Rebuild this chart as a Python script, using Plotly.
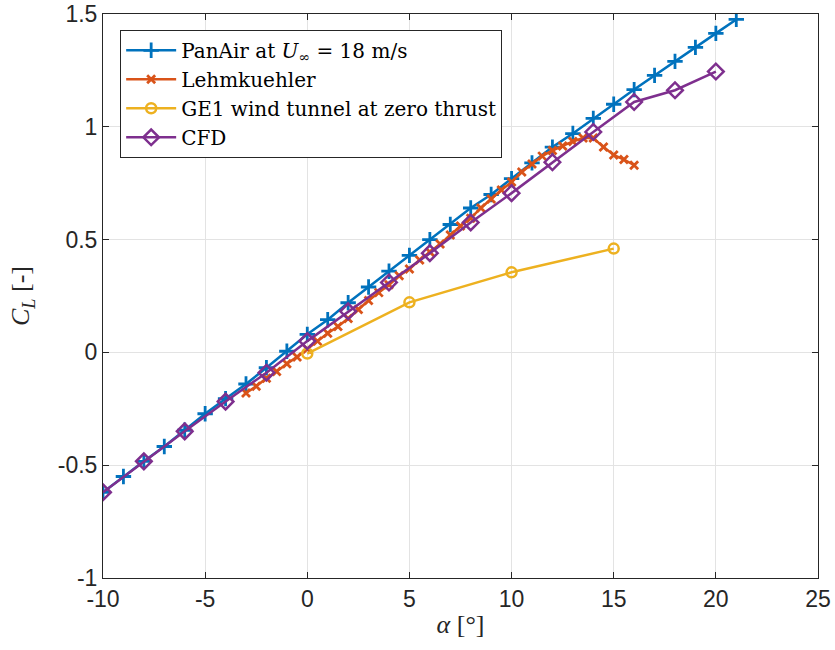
import plotly.graph_objects as go

# PanAir at U_inf = 18 m/s
panair_alpha = list(range(-10, 22))
panair_cl = [-0.62, -0.55, -0.483, -0.417, -0.345, -0.272, -0.205, -0.14, -0.068, 0.005,
             0.08, 0.145, 0.22, 0.29, 0.36, 0.43, 0.50, 0.567, 0.64, 0.70,
             0.77, 0.84, 0.91, 0.97, 1.037, 1.10, 1.165, 1.228, 1.29, 1.352,
             1.414, 1.476]

# Lehmkuehler
lehm_alpha = [-3, -2.5, -2, -1.5, -1, -0.5, 0, 0.5, 1, 1.5, 2, 2.5, 3, 3.5, 4, 4.5, 5,
              5.5, 6, 6.5, 7, 7.5, 8, 8.5, 9, 9.5, 10, 10.5, 11, 11.5, 12, 12.5, 13,
              13.5, 14, 14.5, 15, 15.5, 16]
lehm_cl = [-0.18, -0.15, -0.115, -0.085, -0.05, -0.02, 0.015, 0.05, 0.085, 0.115, 0.15,
           0.19, 0.23, 0.265, 0.30, 0.34, 0.37, 0.41, 0.445, 0.48, 0.52, 0.56, 0.595,
           0.64, 0.68, 0.72, 0.755, 0.80, 0.835, 0.87, 0.895, 0.915, 0.935, 0.95, 0.95,
           0.91, 0.875, 0.855, 0.83]

# GE1 wind tunnel at zero thrust
ge1_alpha = [0, 5, 10, 15]
ge1_cl = [-0.005, 0.222, 0.355, 0.46]

# CFD
cfd_alpha = [-10, -8, -6, -4, -2, 0, 2, 4, 6, 8, 10, 12, 14, 16, 18, 20]
cfd_cl = [-0.62, -0.483, -0.35, -0.218, -0.09, 0.05, 0.182, 0.31, 0.44, 0.576, 0.706,
          0.843, 0.977, 1.11, 1.162, 1.245]

x_ticks = [-10, -5, 0, 5, 10, 15, 20, 25]
x_ticktext = ["-10", "-5", "0", "5", "10", "15", "20", "25"]
y_ticks = [-1, -0.5, 0, 0.5, 1, 1.5]
y_ticktext = ["-1", "-0.5", "0", "0.5", "1", "1.5"]

blue, orange, yellow, purple = "#0072BD", "#D95319", "#EDB120", "#7E2F8E"
serif = "DejaVu Serif, Liberation Serif, serif"
title_serif = "Liberation Serif, Times New Roman, serif"
sans = "Liberation Sans, Arial, sans-serif"
axis_col = "#262626"

fig = go.Figure()
fig.add_trace(go.Scatter(
    x=panair_alpha, y=panair_cl, mode="lines+markers",
    name="PanAir at <i>U</i><sub>∞</sub> = 18 m/s",
    line=dict(color=blue, width=2.5),
    marker=dict(symbol="cross-thin-open", size=11, line=dict(color=blue, width=2.8)),
))
fig.add_trace(go.Scatter(
    x=lehm_alpha, y=lehm_cl, mode="lines+markers", name="Lehmkuehler",
    line=dict(color=orange, width=2.5),
    marker=dict(symbol="x-thin-open", size=8, line=dict(color=orange, width=2.8)),
))
fig.add_trace(go.Scatter(
    x=ge1_alpha, y=ge1_cl, mode="lines+markers", name="GE1 wind tunnel at zero thrust",
    line=dict(color=yellow, width=2.5),
    marker=dict(symbol="circle-open", size=10, line=dict(color=yellow, width=2.5)),
))
fig.add_trace(go.Scatter(
    x=cfd_alpha, y=cfd_cl, mode="lines+markers", name="CFD",
    line=dict(color=purple, width=2.5),
    marker=dict(symbol="diamond-open", size=12, line=dict(color=purple, width=2.5)),
))

axis_common = dict(
    showline=True, linecolor=axis_col, linewidth=1, mirror="ticks",
    ticks="inside", ticklen=6, tickcolor=axis_col,
    showgrid=True, gridcolor="#e3e3e3", gridwidth=1, zeroline=False,
    tickfont=dict(family=sans, size=23, color=axis_col),
    automargin=False,
)
fig.update_xaxes(
    range=[-10, 25], tickvals=x_ticks, ticktext=x_ticktext,
    title=dict(text="<i>α</i> [°]", font=dict(family=title_serif, size=26, color=axis_col), standoff=4),
    **axis_common,
)
fig.update_yaxes(
    range=[-1, 1.5], tickvals=y_ticks, ticktext=y_ticktext,
    title=dict(text="<i>C</i><sub><i>L</i></sub> [-]", font=dict(family=title_serif, size=26, color=axis_col), standoff=20),
    **axis_common,
)
fig.update_layout(
    width=835, height=650,
    margin=dict(l=103, r=17, t=14, b=72),
    plot_bgcolor="white", paper_bgcolor="white",
    legend=dict(
        x=0.024, y=0.972, xanchor="left", yanchor="top",
        bgcolor="white", bordercolor=axis_col, borderwidth=1,
        font=dict(family=serif, size=20, color="#000000"),
        itemwidth=50, tracegroupgap=0,
    ),
)
fig.write_html(
    "out.html",
    config={"displayModeBar": False},
    post_script="document.body.style.margin='0';",
)
